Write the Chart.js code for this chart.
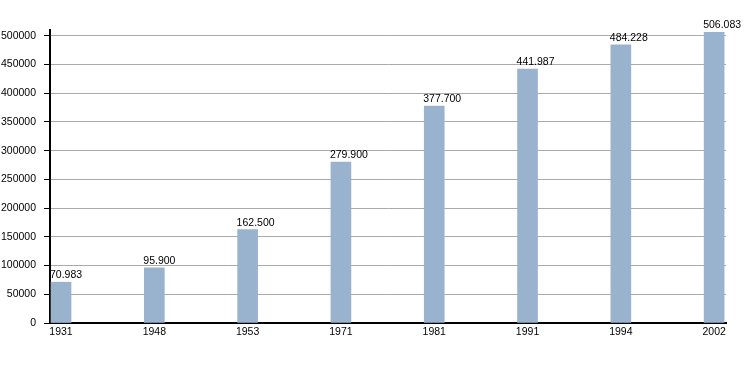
<!DOCTYPE html>
<html>
<head>
<meta charset="utf-8">
<script src="https://cdn.jsdelivr.net/npm/chart.js@4/dist/chart.umd.min.js"></script>
<style>
  html, body { margin: 0; padding: 0; background: #fff; }
  #wrap { width: 755px; height: 373px; }
</style>
</head>
<body>
<div id="wrap"><canvas id="chart"></canvas></div>
<script>
const years = ['1931', '1948', '1953', '1971', '1981', '1991', '1994', '2002'];
const population = [70983, 95900, 162500, 279900, 377700, 441987, 484228, 506083];
const yTicks = [0, 50000, 100000, 150000, 200000, 250000, 300000, 350000, 400000, 450000, 500000];

const FONT = 'Liberation Sans, Arial, Helvetica, sans-serif';

// 506083 -> "506.083"
const dotted = (n) => String(n).replace(/\B(?=(\d{3})+(?!\d))/g, '.');

const valueLabels = {
  id: 'valueLabels',
  afterDatasetsDraw(chart) {
    const ctx = chart.ctx;
    const meta = chart.getDatasetMeta(0);
    ctx.save();
    ctx.font = '10.5px ' + FONT;
    ctx.fillStyle = '#000';
    ctx.textAlign = 'left';
    ctx.textBaseline = 'alphabetic';
    meta.data.forEach((bar, i) => {
      const left = bar.x - bar.width / 2;
      ctx.fillText(dotted(population[i]), left - 1, bar.y - 4);
    });
    ctx.restore();
  },
};

new Chart(document.getElementById('chart'), {
  type: 'bar',
  data: {
    datasets: [{
      data: population.map((v, i) => ({ x: i, y: v })),
      backgroundColor: '#99b3cf',
      barThickness: 20,
    }],
  },
  options: {
    responsive: true,
    maintainAspectRatio: false,
    animation: false,
    layout: { padding: { top: 30, right: 29, left: 0, bottom: 0 } },
    plugins: { legend: { display: false }, tooltip: { enabled: false } },
    scales: {
      x: {
        type: 'linear',
        offset: false,
        min: -0.118,
        max: 7.127,
        grid: { display: false, drawTicks: false },
        border: { display: true, color: '#000', width: 2 },
        ticks: {
          stepSize: 1,
          includeBounds: false,
          autoSkip: false,
          maxRotation: 0,
          padding: 3,
          color: '#000',
          font: { family: FONT, size: 10.5 },
          callback: (v) => years[v] ?? '',
        },
        afterFit(scale) { scale.height = 50; },
      },
      y: {
        min: 0,
        max: 510000,
        grid: { color: '#aaaaaa', tickColor: '#000', tickLength: 6, lineWidth: 1 },
        border: { display: true, color: '#000', width: 2 },
        afterBuildTicks(scale) { scale.ticks = yTicks.map((v) => ({ value: v })); },
        ticks: {
          includeBounds: false,
          padding: 8,
          color: '#000',
          font: { family: FONT, size: 10.5 },
          callback: (v) => String(v),
        },
        afterFit(scale) { scale.width = 50; },
      },
    },
  },
  plugins: [valueLabels],
});
</script>
</body>
</html>
